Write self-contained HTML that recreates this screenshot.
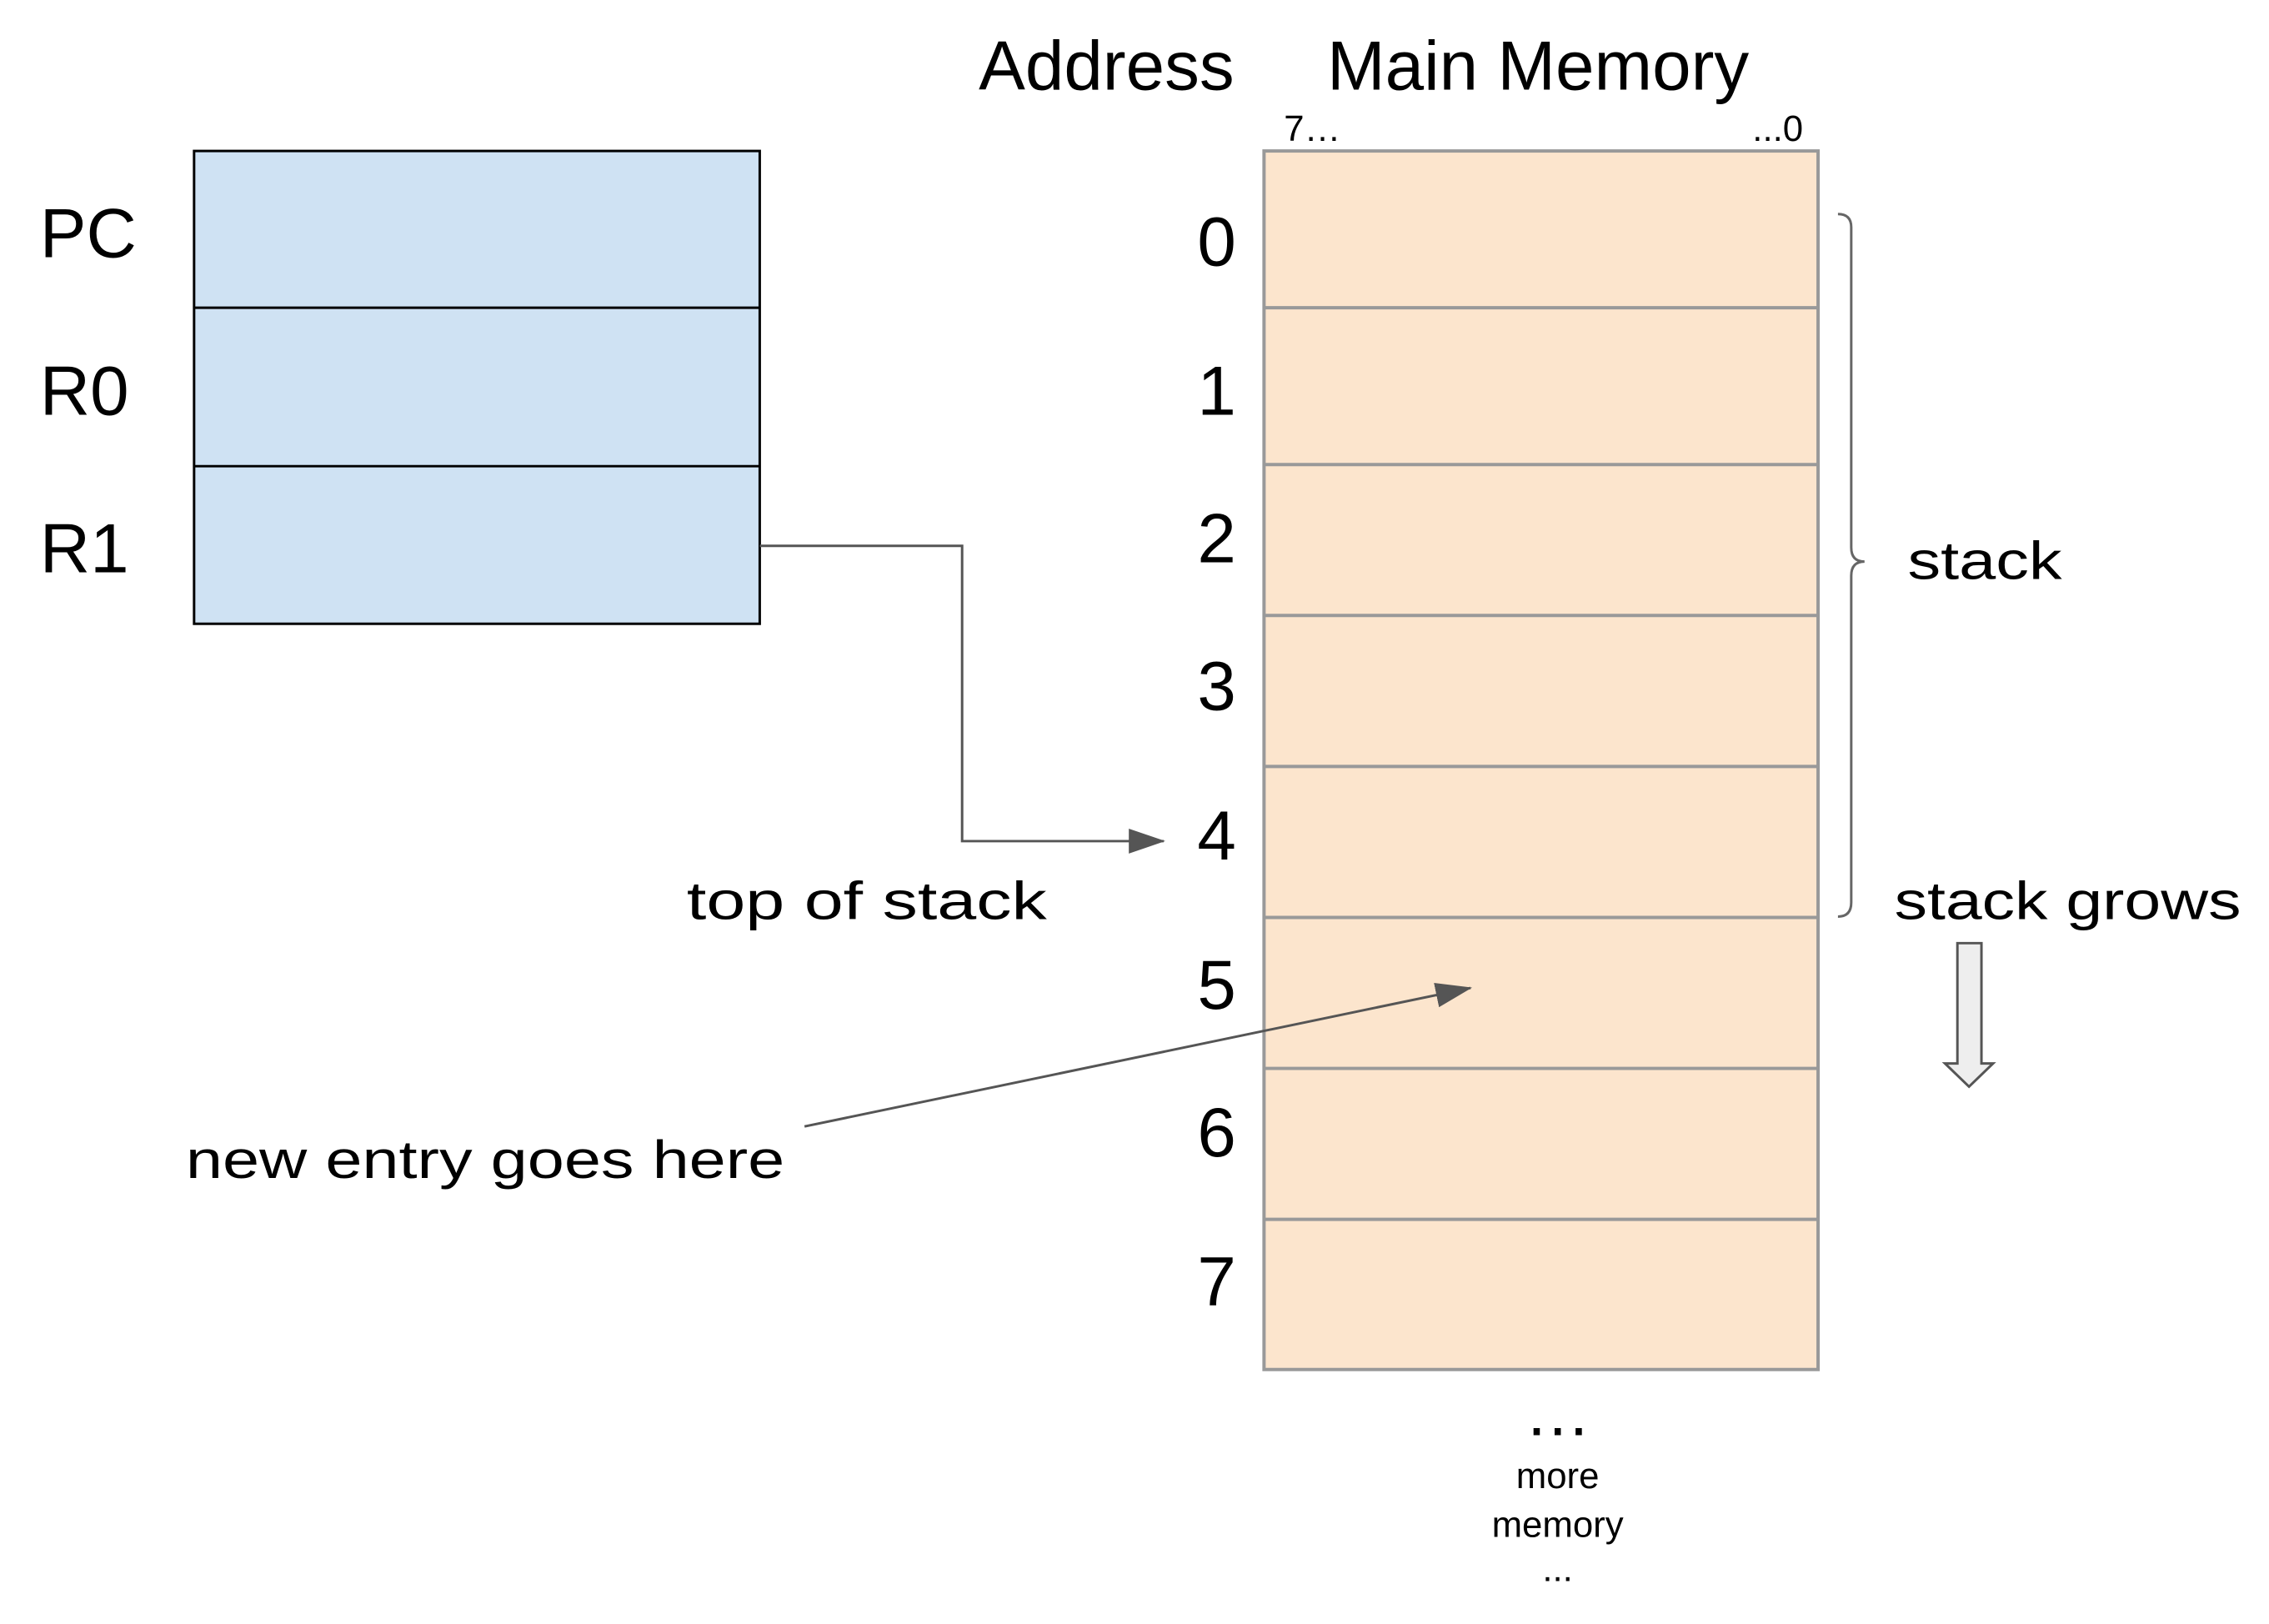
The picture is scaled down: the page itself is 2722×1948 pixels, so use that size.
<!DOCTYPE html>
<html><head><meta charset="utf-8"><style>
html,body{margin:0;padding:0;background:#fff;}
svg{display:block;}
.h{font-family:"Liberation Sans",sans-serif;}
.hw{font-family:"Liberation Sans",sans-serif;font-weight:normal;}
</style></head><body>
<svg width="2722" height="1948" viewBox="0 0 2722 1948" xmlns="http://www.w3.org/2000/svg">
<defs>
<marker id="ah2" markerWidth="44" markerHeight="30" refX="42" refY="15" orient="auto" markerUnits="userSpaceOnUse" viewBox="0 0 44 30">
<path d="M0,0 L44,15 L0,30 z" fill="#555"/>
</marker>
</defs>
<g transform="scale(0.995)">
<g>
<rect x="234" y="182" width="682" height="570" fill="#cfe2f3" stroke="#000" stroke-width="3"/>
<line x1="234" y1="371" x2="916" y2="371" stroke="#000" stroke-width="3"/>
<line x1="234" y1="562" x2="916" y2="562" stroke="#000" stroke-width="3"/>
<text class="h" x="48" y="310" font-size="84">PC</text>
<text class="h" x="48" y="500" font-size="84">R0</text>
<text class="h" x="48" y="690" font-size="84">R1</text>
</g>

<text class="h" x="1180" y="108" font-size="84">Address</text>
<text class="h" x="1600" y="108" font-size="84">Main Memory</text>
<text class="h" x="1548" y="170" font-size="44">7…</text>
<text class="h" x="2174" y="170" font-size="44" text-anchor="end">...0</text>

<g>
<rect x="1524" y="182" width="668" height="1469" fill="#fce5cd" stroke="#999" stroke-width="4"/>
<g stroke="#999" stroke-width="4">
<line x1="1524" y1="371" x2="2192" y2="371"/>
<line x1="1524" y1="560" x2="2192" y2="560"/>
<line x1="1524" y1="742" x2="2192" y2="742"/>
<line x1="1524" y1="924" x2="2192" y2="924"/>
<line x1="1524" y1="1106" x2="2192" y2="1106"/>
<line x1="1524" y1="1288" x2="2192" y2="1288"/>
<line x1="1524" y1="1470" x2="2192" y2="1470"/>
</g>
<g class="h" font-size="84" text-anchor="middle">
<text x="1467" y="320">0</text>
<text x="1467" y="500">1</text>
<text x="1467" y="678">2</text>
<text x="1467" y="856">3</text>
<text x="1467" y="1036">4</text>
<text x="1467" y="1216">5</text>
<text x="1467" y="1394">6</text>
<text x="1467" y="1574">7</text>
</g>
</g>

<text class="h" x="1878" y="1730" font-size="80" text-anchor="middle">…</text>
<text class="h" x="1878" y="1794" font-size="44" text-anchor="middle">more</text>
<text class="h" x="1878" y="1853" font-size="44" text-anchor="middle">memory</text>
<text class="h" x="1878" y="1906" font-size="44" text-anchor="middle">...</text>

<path d="M2216,258 Q2232,258 2232,274 L2232,660 Q2232,677 2248,677 Q2232,677 2232,694 L2232,1088 Q2232,1105 2216,1105" fill="none" stroke="#666" stroke-width="3"/>
<text class="hw" x="2300" y="698" font-size="64" textLength="186" lengthAdjust="spacingAndGlyphs">stack</text>
<text class="hw" x="2284" y="1108" font-size="64" textLength="418" lengthAdjust="spacingAndGlyphs">stack grows</text>
<path d="M2360,1137 L2389,1137 L2389,1282 L2403,1282 L2374,1310 L2345,1282 L2360,1282 Z" fill="#eeeeee" stroke="#555" stroke-width="3"/>

<path d="M916,658 L1160,658 L1160,1014 L1403,1014" fill="none" stroke="#555" stroke-width="3" marker-end="url(#ah2)"/>
<text class="hw" x="828" y="1108" font-size="64" textLength="434" lengthAdjust="spacingAndGlyphs">top of stack</text>

<line x1="970" y1="1358" x2="1773" y2="1191" stroke="#555" stroke-width="3" marker-end="url(#ah2)"/>
<text class="hw" x="224" y="1420" font-size="64" textLength="722" lengthAdjust="spacingAndGlyphs">new entry goes here</text>
</g>
</svg>
</body></html>
